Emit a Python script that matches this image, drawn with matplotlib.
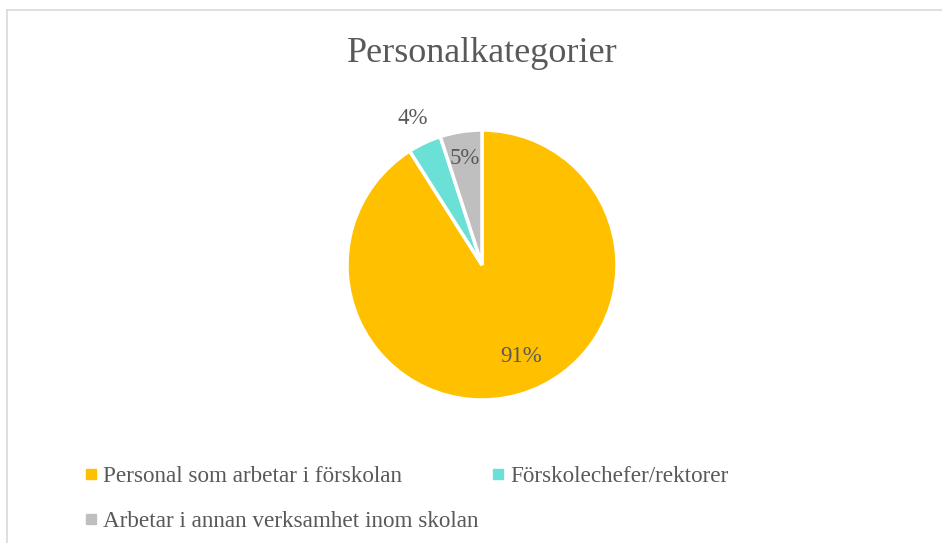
import matplotlib
matplotlib.use('Agg')
import matplotlib.pyplot as plt
from matplotlib.lines import Line2D
import numpy as np

# Chart data
categories = ['Personal som arbetar i förskolan',
              'Förskolechefer/rektorer',
              'Arbetar i annan verksamhet inom skolan']
shares = [91, 4, 5]
colors = ['#FFC000', '#6BE0D6', '#BFBFBF']
label_dist = [0.74, 1.2, 0.8]   # where each percentage sits (fraction of radius)

text_color = '#595959'
plt.rcParams['font.family'] = ['Liberation Serif', 'DejaVu Serif']

W, H = 942, 543
fig = plt.figure(figsize=(W / 100, H / 100), dpi=100)

# chart frame (light grey border, cut by the image edges)
fig.add_artist(Line2D([7 / W, 7 / W], [0, 1 - 10 / H], color='#D9D9D9', lw=1.2))
fig.add_artist(Line2D([7 / W, 1], [1 - 10 / H, 1 - 10 / H], color='#D9D9D9', lw=1.2))

fig.text(482 / W, 1 - 53 / H, 'Personalkategorier', ha='center', va='center',
         fontsize=26, color=text_color)

# pie: centre (482, 265), radius 135 px
cx, cy, r = 482, 265, 135
ax = fig.add_axes([(cx - r) / W, (H - cy - r) / H, 2 * r / W, 2 * r / H])
wedges, _ = ax.pie(shares, colors=colors, startangle=90, counterclock=False,
                   wedgeprops=dict(edgecolor='white', linewidth=2.5))
ax.set_xlim(-1, 1)
ax.set_ylim(-1, 1)
ax.set_aspect('auto')
ax.axis('off')

for w, val, d in zip(wedges, shares, label_dist):
    mid = np.deg2rad((w.theta1 + w.theta2) / 2 + (7 if val == 91 else 0))
    ax.text(d * np.cos(mid), d * np.sin(mid), f'{val}%', ha='center', va='center',
            fontsize=16.5, color=text_color, clip_on=False)

# legend, filled row by row
handles = [Line2D([], [], marker='s', linestyle='none', markersize=6.5,
                  markerfacecolor=c, markeredgecolor=c) for c in colors]
order = [0, 2, 1]
leg = fig.legend([handles[i] for i in order], [categories[i] for i in order],
                 ncol=2, loc='upper left', bbox_to_anchor=(86 / W, 1 - 466 / H),
                 frameon=False, fontsize=16.7, labelcolor=text_color,
                 handlelength=0.45, handletextpad=0.3, columnspacing=0.6,
                 labelspacing=1.0, borderaxespad=0, borderpad=0)

fig.savefig('out.png', dpi=100)
